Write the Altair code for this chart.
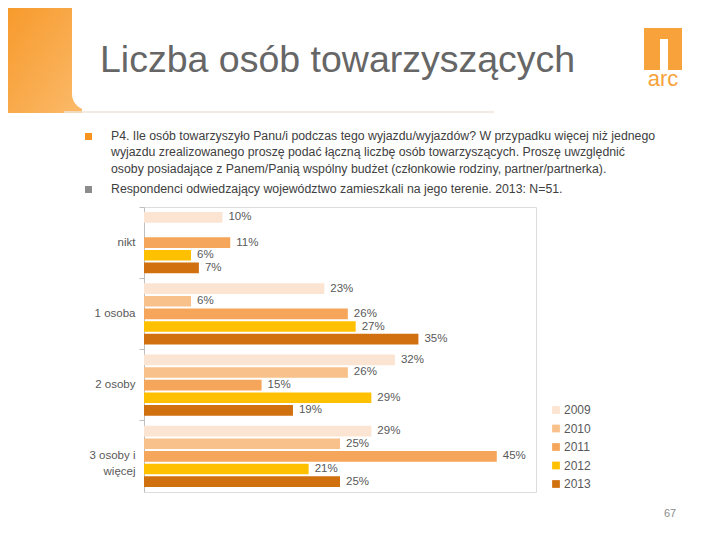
import altair as alt
import pandas as pd

# ---- data ----
categories = ["nikt", "1 osoba", "2 osoby", "3 osoby i więcej"]
years = ["2009", "2010", "2011", "2012", "2013"]
v2009 = [10, 23, 32, 29]
v2010 = [None, 6, 26, 25]
v2011 = [11, 26, 15, 45]
v2012 = [6, 27, 29, 21]
v2013 = [7, 35, 19, 25]
colors = ["#FCE4D2", "#F8C08A", "#F6A65A", "#FFC000", "#D1700F"]

title_text = "Liczba osób towarzyszących"
note_lines = [
    "P4. Ile osób towarzyszyło Panu/i podczas tego wyjazdu/wyjazdów? W przypadku więcej niż jednego",
    "wyjazdu zrealizowanego proszę podać łączną liczbę osób towarzyszących. Proszę uwzględnić",
    "osoby posiadające z Panem/Panią wspólny budżet (członkowie rodziny, partner/partnerka).",
]
base_text = "Respondenci odwiedzający województwo zamieszkali na jego terenie. 2013: N=51."
page_no = "67"

rows = []
for yr, vals in zip(years, [v2009, v2010, v2011, v2012, v2013]):
    for c, v in zip(categories, vals):
        if v is not None:
            rows.append({"kat": c, "rok": yr, "val": v, "lab": f"{v}%"})
df = pd.DataFrame(rows)

FONT = "Liberation Sans"
GRAY = "#595959"

y_enc = alt.Y("kat:N", sort=categories, title=None,
              scale=alt.Scale(paddingInner=0, paddingOuter=0),
              axis=alt.Axis(domainColor="#BFBFBF", tickColor="#BFBFBF", tickSize=5,
                            bandPosition=0, labelFontSize=11.5, labelColor=GRAY,
                            labelFont=FONT, labelPadding=4, labelLimit=200,
                            labelLineHeight=16,
                            labelExpr="datum.value == '3 osoby i więcej' ? ['3 osoby i', 'więcej'] : datum.label"))
yoff = alt.YOffset("rok:N", sort=years,
                   scale=alt.Scale(paddingInner=0.16, paddingOuter=0.4))
x_enc = alt.X("val:Q", scale=alt.Scale(domain=[0, 50]), axis=None)

bars = alt.Chart(df).mark_bar().encode(
    y=y_enc, yOffset=yoff, x=x_enc,
    color=alt.Color("rok:N", sort=years,
                    scale=alt.Scale(domain=years, range=colors),
                    legend=alt.Legend(title=None, orient="none", legendX=406, legendY=197,
                                      symbolType="square", symbolSize=60,
                                      symbolStrokeWidth=0,
                                      labelFontSize=12, labelColor=GRAY, labelFont=FONT,
                                      rowPadding=6.5, labelOffset=2)),
)
labels = alt.Chart(df).mark_text(align="left", baseline="middle", dx=6,
                                 fontSize=11.5, color=GRAY, font=FONT).encode(
    y=alt.Y("kat:N", sort=categories), yOffset=yoff, x=x_enc, text="lab:N")

one = pd.DataFrame({"a": [0]})
grad = alt.Gradient(gradient="linear",
                    stops=[alt.GradientStop(color="#F79A2C", offset=0),
                           alt.GradientStop(color="#FBBA6A", offset=1)],
                    x1=0, x2=1, y1=0, y2=1)
strip = alt.Chart(one).mark_rect(fill=grad).encode(
    x=alt.value(-136), x2=alt.value(-62), y=alt.value(-199), y2=alt.value(-94))
panel = alt.Chart(one).mark_rect(color="white", cornerRadiusBottomLeft=16).encode(
    x=alt.value(-72), x2=alt.value(562), y=alt.value(-199), y2=alt.value(-97))
hline = alt.Chart(one).mark_rule(color="#EFE4D8", strokeWidth=1.5).encode(
    x=alt.value(-80), x2=alt.value(350), y=alt.value(-95))
title = alt.Chart(one).mark_text(text=title_text, align="left", baseline="alphabetic",
                                 fontSize=37.5, color="#666666", font=FONT).encode(
    x=alt.value(-44), y=alt.value(-135))
logo = alt.Chart(one).mark_rect(color="#F7A23A").encode(
    x=alt.value(500), x2=alt.value(538), y=alt.value(-179), y2=alt.value(-137))
logo_w = alt.Chart(one).mark_rect(color="white").encode(
    x=alt.value(516), x2=alt.value(524), y=alt.value(-168), y2=alt.value(-137))
logo_t = alt.Chart(one).mark_text(text="arc", align="center", baseline="alphabetic",
                                  fontSize=22, color="#F7A23A", font=FONT).encode(
    x=alt.value(519), y=alt.value(-121))
bul1 = alt.Chart(one).mark_square(color="#F7941D", size=49, opacity=1).encode(
    x=alt.value(-55.5), y=alt.value(-70.5))
bul2 = alt.Chart(one).mark_square(color="#8C8C8C", size=49, opacity=1).encode(
    x=alt.value(-55.5), y=alt.value(-17.5))
note = alt.Chart(one).mark_text(text="\n".join(note_lines), lineBreak="\n", lineHeight=16.3,
                                align="left", baseline="middle", fontSize=12.3,
                                color="#404040", font=FONT).encode(
    x=alt.value(-33), y=alt.value(-71))
base = alt.Chart(one).mark_text(text=base_text, align="left", baseline="middle",
                                fontSize=12.3, color="#404040", font=FONT).encode(
    x=alt.value(-33), y=alt.value(-18))
pno = alt.Chart(one).mark_text(text=page_no, align="center", baseline="middle",
                               fontSize=11, color="#8C8C8C", font=FONT).encode(
    x=alt.value(526), y=alt.value(307))

chart = alt.layer(strip, panel, hline, title, logo, logo_w, logo_t, bul1, bul2, note, base, pno,
                  bars, labels).properties(
    width=392, height=285,
    autosize=alt.AutoSizeParams(type="none"),
    padding={"left": 136, "top": 199, "right": 170, "bottom": 30},
).configure_view(stroke=None).configure(background="white")

chart.save("out.html", embed_options={"renderer": "svg", "actions": False})
